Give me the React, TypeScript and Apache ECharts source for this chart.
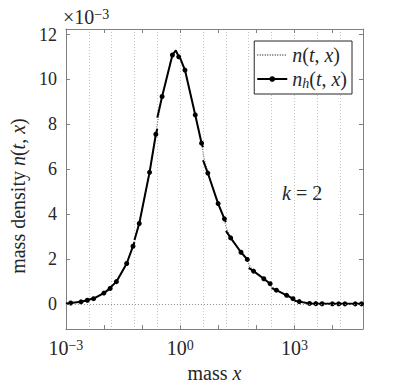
import React, { useEffect, useRef } from 'react';
import * as echarts from 'echarts';

const FONT = '"Liberation Serif", "Times New Roman", serif';
const AXIS_GRAY = '#808080';
const TEXT = '#262626';

// element edges (log-uniform mesh, 0.6 decade wide)
const elementEdges = [0.001, 0.003981, 0.01585, 0.0631, 0.2512, 1, 3.981, 15.85, 63.1, 251.2, 1000, 3981, 15849, 63096];
// same edges as exponents, for the dotted vertical grid
const edgeExpMin = -3;
const edgeExpMax = 4.8;
const edgeExpStep = 0.6;

// marker positions (3 per element)
const gaussX = [
  [0.001336, 0.002491, 0.003645],
  [0.005318, 0.009916, 0.01451],
  [0.02117, 0.03948, 0.05777],
  [0.0843, 0.1572, 0.23],
  [0.3356, 0.6257, 0.9156],
  [1.336, 2.491, 3.645],
  [5.318, 9.916, 14.51],
  [21.17, 39.48, 57.77],
  [84.3, 157.2, 230.0],
  [335.6, 625.7, 915.6],
  [1336, 2491, 3645],
  [5318, 9916, 14510],
  [21170, 39480, 57770],
];

// n_h values at markers (x 1e-3)
const nhGauss = [
  [0.04, 0.09, 0.16],
  [0.23, 0.48, 0.69],
  [0.99, 1.8, 2.57],
  [3.58, 5.86, 7.56],
  [9.24, 11.09, 11.01],
  [10.42, 8.42, 7.16],
  [5.83, 4.47, 3.79],
  [2.94, 2.3, 1.98],
  [1.46, 1.12, 0.9],
  [0.61, 0.38, 0.23],
  [0.1, 0.02, 0.01],
  [0.005, 0.002, 0.001],
  [0.0, 0.0, 0.0],
];

// n_h values at the left / right end of each element
const nhLeft = [0.02, 0.19, 0.78, 2.85, 8.3, 10.95, 6.4, 3.25, 1.6, 0.7, 0.14, 0.0, 0.0];
const nhRight = [0.19, 0.78, 2.75, 7.8, 10.95, 6.98, 3.65, 1.92, 0.87, 0.21, 0.0, 0.0, 0.0];

// peak of n_h inside element 4
const peakX = 0.77;
const peakY = 11.3;

// exact n(t,x) at element edges
const exactEdge = [0.02, 0.19, 0.78, 2.8, 8.05, 10.95, 6.7, 3.45, 1.76, 0.78, 0.17, 0.0, 0.0, 0.0];

const xTickValues = [1e-3, 1e-2, 1e-1, 1, 10, 100, 1000, 1e4];
const xLabelValues = [1e-3, 1, 1e3];
const yTickValues = [0, 2, 4, 6, 8, 10, 12];
const Y_MIN = -1.125;
const Y_MAX = 12.25;

function buildNh() {
  const out: any[] = [];
  for (let e = 0; e < gaussX.length; e++) {
    out.push({ value: [elementEdges[e], nhLeft[e]], symbol: 'none' });
    for (let j = 0; j < 3; j++) {
      out.push([gaussX[e][j], nhGauss[e][j]]);
      if (e === 4 && j === 1) out.push({ value: [peakX, peakY], symbol: 'none' });
    }
    out.push({ value: [elementEdges[e + 1], nhRight[e]], symbol: 'none' });
    if (e < gaussX.length - 1) out.push([elementEdges[e + 1], '-']);
  }
  return out;
}

function buildExact() {
  const out: any[] = [];
  for (let e = 0; e < gaussX.length; e++) {
    out.push([elementEdges[e], exactEdge[e]]);
    for (let j = 0; j < 3; j++) {
      out.push([gaussX[e][j], nhGauss[e][j]]);
      if (e === 4 && j === 1) out.push([peakX, peakY]);
    }
  }
  out.push([elementEdges[elementEdges.length - 1], exactEdge[exactEdge.length - 1]]);
  return out;
}

const expLabel = (v: number) => {
  const p = Math.round(Math.log10(v));
  return '{b|10}{sup|' + (p < 0 ? '\u2212' + -p : String(p)) + '}';
};

const italic = { fontStyle: 'italic', fontFamily: FONT, fontSize: 20, color: TEXT };
const roman = { fontFamily: FONT, fontSize: 20, color: TEXT };

export default function App() {
  const ref = useRef<HTMLDivElement>(null);
  useEffect(() => {
    if (!ref.current) return;
    const chart = echarts.init(ref.current, undefined, { renderer: 'svg' });
    const commonX = {
      type: 'log',
      logBase: 10,
      min: elementEdges[0],
      max: elementEdges[elementEdges.length - 1],
      splitLine: { show: false },
      minorSplitLine: { show: false },
      axisLine: { show: true, onZero: false, lineStyle: { color: AXIS_GRAY, width: 1 } },
      axisTick: { show: true, inside: true, length: 4, lineStyle: { color: AXIS_GRAY }, customValues: xTickValues },
      minorTick: { show: false },
    };
    const commonY = {
      type: 'value',
      min: Y_MIN,
      max: Y_MAX,
      splitLine: { show: false },
      axisLine: { show: true, onZero: false, lineStyle: { color: AXIS_GRAY, width: 1 } },
      axisTick: { show: true, inside: true, length: 4, lineStyle: { color: AXIS_GRAY }, customValues: yTickValues },
    };
    chart.setOption({
      animation: false,
      backgroundColor: '#ffffff',
      grid: { left: 62, right: 46, top: 29, bottom: 58, containLabel: false },
      xAxis: [
        {
          type: 'value',
          position: 'bottom',
          min: edgeExpMin,
          max: edgeExpMax,
          interval: edgeExpStep,
          axisLine: { show: false, onZero: false },
          axisTick: { show: false },
          axisLabel: { show: false },
          splitLine: { show: true, lineStyle: { color: '#c4c4c4', width: 1, type: [1, 2] } },
          z: 0,
        },
        {
          ...commonX,
          position: 'bottom',
          name: '{r|mass }{i|x}',
          nameLocation: 'middle',
          nameGap: 33,
          nameTextStyle: { fontFamily: FONT, fontSize: 20, color: TEXT, rich: { i: italic, r: roman } },
          axisLabel: {
            show: true,
            customValues: xLabelValues,
            margin: 9,
            fontFamily: FONT,
            fontSize: 20,
            color: TEXT,
            formatter: (v: number) => expLabel(v),
            rich: {
              b: { fontFamily: FONT, fontSize: 20, color: TEXT },
              sup: { fontFamily: FONT, fontSize: 14, color: TEXT, verticalAlign: 'top', lineHeight: 12 },
            },
          },
        },
        {
          ...commonX,
          position: 'top',
          axisLabel: { show: false },
        },
      ],
      yAxis: [
        {
          ...commonY,
          position: 'left',
          name: '{r|mass density }{i|n}{r|(}{i|t}{r|, }{i|x}{r|)}',
          nameLocation: 'middle',
          nameRotate: 90,
          nameGap: 36,
          nameTextStyle: {
            fontFamily: FONT,
            fontSize: 20,
            color: TEXT,
            padding: [0, 34, 0, 0],
            rich: { i: italic, r: roman },
          },
          axisLabel: {
            show: true,
            customValues: yTickValues,
            margin: 9,
            fontFamily: FONT,
            fontSize: 18,
            color: TEXT,
            formatter: (v: number) => String(Math.round(v)),
          },
        },
        {
          ...commonY,
          position: 'right',
          axisLabel: { show: false },
        },
      ],
      legend: {
        orient: 'vertical',
        right: 57,
        top: 41,
        itemWidth: 30,
        itemHeight: 7,
        itemGap: 4,
        padding: [4, 5, 4, 2],
        borderColor: '#262626',
        borderWidth: 1,
        backgroundColor: '#ffffff',
        data: [
          { name: 'n(t,x)', itemStyle: { color: 'rgba(0,0,0,0)', borderWidth: 0, opacity: 0 } },
          { name: 'nh(t,x)', itemStyle: { color: '#000000', borderWidth: 0 } },
        ],
        textStyle: {
          fontFamily: FONT,
          fontSize: 20,
          color: TEXT,
          rich: {
            i: italic,
            r: { fontFamily: FONT, fontSize: 20, color: TEXT, lineHeight: 22 },
            s: { fontStyle: 'italic', fontFamily: FONT, fontSize: 14, color: TEXT, verticalAlign: 'bottom', lineHeight: 14 },
          },
        },
        formatter: (name: string) =>
          name === 'n(t,x)'
            ? '{i|n}{r|(}{i|t}{r|, }{i|x}{r|)}'
            : '{i|n}{s|h}{r|(}{i|t}{r|, }{i|x}{r|)}',
      },
      graphic: [
        {
          type: 'text',
          x: 63,
          y: 17,
          style: {
            text: '{b|\u00d710}{sup|\u22123}',
            fontFamily: FONT,
            fontSize: 20,
            fill: TEXT,
            verticalAlign: 'middle',
            rich: {
              b: { fontFamily: FONT, fontSize: 20, fill: TEXT },
              sup: { fontFamily: FONT, fontSize: 14, fill: TEXT, verticalAlign: 'top', lineHeight: 12 },
            },
          },
        },
        {
          type: 'text',
          x: 282,
          y: 193,
          style: {
            text: '{i|k}{r| = 2}',
            fontFamily: FONT,
            fontSize: 20,
            fill: TEXT,
            verticalAlign: 'middle',
            rich: {
              i: { fontStyle: 'italic', fontFamily: FONT, fontSize: 20, fill: TEXT },
              r: { fontFamily: FONT, fontSize: 20, fill: TEXT },
            },
          },
        },
      ],
      series: [
        {
          name: 'n(t,x)',
          type: 'line',
          xAxisIndex: 1,
          yAxisIndex: 0,
          data: buildExact(),
          symbol: 'none',
          z: 2,
          lineStyle: { color: '#7a7a7a', width: 1.3, type: [1, 1.5] },
          itemStyle: { color: '#7a7a7a' },
          markLine: {
            silent: true,
            symbol: 'none',
            label: { show: false },
            lineStyle: { color: '#8a8a8a', width: 1, type: [1, 2] },
            data: [{ yAxis: 0 }],
          },
        },
        {
          name: 'nh(t,x)',
          type: 'line',
          xAxisIndex: 1,
          yAxisIndex: 0,
          data: buildNh(),
          connectNulls: false,
          symbol: 'circle',
          symbolSize: 5,
          showSymbol: true,
          z: 3,
          lineStyle: { color: '#000000', width: 2 },
          itemStyle: { color: '#000000', borderWidth: 0 },
        },
      ],
    });
    return () => chart.dispose();
  }, []);
  return <div ref={ref} style={{ position: 'fixed', left: 0, top: 0, width: 409, height: 388 }} />;
}
